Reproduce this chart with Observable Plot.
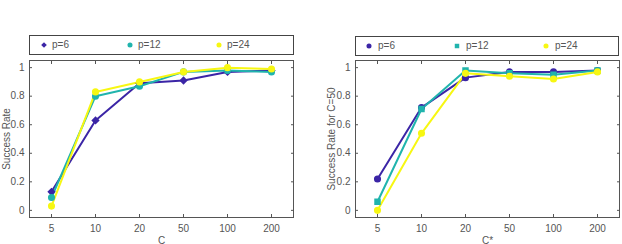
<!DOCTYPE html>
<html>
<head>
<meta charset="utf-8">
<script src="https://cdn.jsdelivr.net/npm/d3@7"></script>
<script src="https://cdn.jsdelivr.net/npm/@observablehq/plot@0.6"></script>
<style>
  html, body { margin: 0; padding: 0; background: #fff; }
  #wrap { position: relative; width: 622px; height: 244px; overflow: hidden; font-family: "Liberation Sans", Arial, sans-serif; }
  .panel { position: absolute; top: 0; width: 311px; height: 244px; }
  .legend { position: absolute; box-sizing: border-box; height: 20px; border: 1px solid #444; background: #fff; font-size: 10px; color: #555; }
  .item { position: absolute; top: 0; height: 18px; line-height: 18px; white-space: nowrap; }
  .item svg { position: absolute; top: 5px; }
  .item span { position: absolute; top: 0; }
</style>
</head>
<body>
<div id="wrap"></div>
<script>
// ---- data ----
const categories = ["5", "10", "20", "50", "100", "200"];
const seriesNames = ["p=6", "p=12", "p=24"];
const colors = ["#3b25a6", "#20b4ad", "#f7f712"];
const yTicks = [0, 0.2, 0.4, 0.6, 0.8, 1];

// left chart: Success Rate vs C
const leftP6  = [0.13, 0.63, 0.89, 0.91, 0.97, 0.98];
const leftP12 = [0.09, 0.80, 0.87, 0.97, 0.98, 0.97];
const leftP24 = [0.03, 0.83, 0.90, 0.97, 1.00, 0.99];
// right chart: Success Rate for C=50 vs C*
const rightP6  = [0.22, 0.72, 0.93, 0.97, 0.97, 0.98];
const rightP12 = [0.06, 0.71, 0.98, 0.96, 0.95, 0.98];
const rightP24 = [0.00, 0.54, 0.96, 0.94, 0.92, 0.97];

const leftSymbols = ["diamond2", "circle", "circle"];
const rightSymbols = ["circle", "square", "circle"];

function toRows(arrs) {
  const rows = [];
  arrs.forEach((vals, si) => vals.forEach((v, i) => rows.push({c: categories[i], v, s: seriesNames[si]})));
  return rows;
}

function makeChart({rows, symbols, xLabel, yLabel, marginLeft, marginRight, labelOffsetY}) {
  const symScale = {domain: seriesNames, range: symbols};
  return Plot.plot({
    width: 311, height: 244,
    marginLeft, marginRight, marginTop: 60, marginBottom: 27,
    style: {fontFamily: "Liberation Sans, Arial, sans-serif", fontSize: "10px", color: "#555", background: "transparent"},
    x: {type: "point", domain: categories, padding: 0.5},
    y: {domain: [-0.05, 1.05]},
    color: {domain: seriesNames, range: colors},
    symbol: symScale,
    marks: [
      Plot.frame({stroke: "#555"}),
      Plot.axisX({anchor: "bottom", tickSize: -3, tickPadding: 10, stroke: "#555", label: xLabel, labelAnchor: "center", labelArrow: "none", labelOffset: 26, fill: "#555"}),
      Plot.axisX({anchor: "top", tickSize: -3, tickFormat: () => "", label: null, stroke: "#555"}),
      Plot.axisY({anchor: "left", ticks: yTicks, tickFormat: d3.format("~g"), tickSize: -3, tickPadding: 8, stroke: "#555", label: yLabel, labelAnchor: "center", labelArrow: "none", labelOffset: labelOffsetY, fill: "#555"}),
      Plot.axisY({anchor: "right", ticks: yTicks, tickSize: -3, tickFormat: () => "", label: null, stroke: "#555"}),
      Plot.line(rows, {x: "c", y: "v", z: "s", stroke: "s", strokeWidth: 2}),
      Plot.dot(rows, {x: "c", y: "v", fill: "s", stroke: "s", symbol: "s", r: 2.8})
    ]
  });
}

function makeLegend(left, top, width, markerOffsets, textOffsets, symbols) {
  const lg = document.createElement("div");
  lg.className = "legend";
  lg.style.left = left + "px";
  lg.style.top = top + "px";
  lg.style.width = width + "px";
  seriesNames.forEach((name, i) => {
    const it = document.createElement("div");
    it.className = "item";
    it.style.left = "0px";
    const sym = d3.symbol(symbols[i] === "square" ? d3.symbolSquare : symbols[i] === "diamond2" ? d3.symbolDiamond2 : d3.symbolCircle, 20)();
    const svg = d3.create("svg").attr("width", 8).attr("height", 8).style("left", (markerOffsets[i] - 4) + "px");
    svg.append("path").attr("d", sym).attr("transform", "translate(4,4)").attr("fill", colors[i]);
    it.appendChild(svg.node());
    const sp = document.createElement("span");
    sp.textContent = name;
    sp.style.left = textOffsets[i] + "px";
    it.appendChild(sp);
    lg.appendChild(it);
  });
  return lg;
}

const wrap = document.getElementById("wrap");

const p1 = document.createElement("div"); p1.className = "panel"; p1.style.left = "0px";
p1.appendChild(makeChart({rows: toRows([leftP6, leftP12, leftP24]), symbols: leftSymbols, xLabel: "C", yLabel: "Success Rate", marginLeft: 29, marginRight: 18, labelOffsetY: 27}));
wrap.appendChild(p1);

const p2 = document.createElement("div"); p2.className = "panel"; p2.style.left = "311px";
p2.appendChild(makeChart({rows: toRows([rightP6, rightP12, rightP24]), symbols: rightSymbols, xLabel: "C*", yLabel: "Success Rate for C=50", marginLeft: 44, marginRight: 3, labelOffsetY: 28}));
wrap.appendChild(p2);

wrap.appendChild(makeLegend(29, 35, 265, [14, 100, 189], [22, 108, 197], leftSymbols));
wrap.appendChild(makeLegend(355, 36, 264, [13, 101, 190], [22, 110, 199], rightSymbols));
</script>
</body>
</html>
